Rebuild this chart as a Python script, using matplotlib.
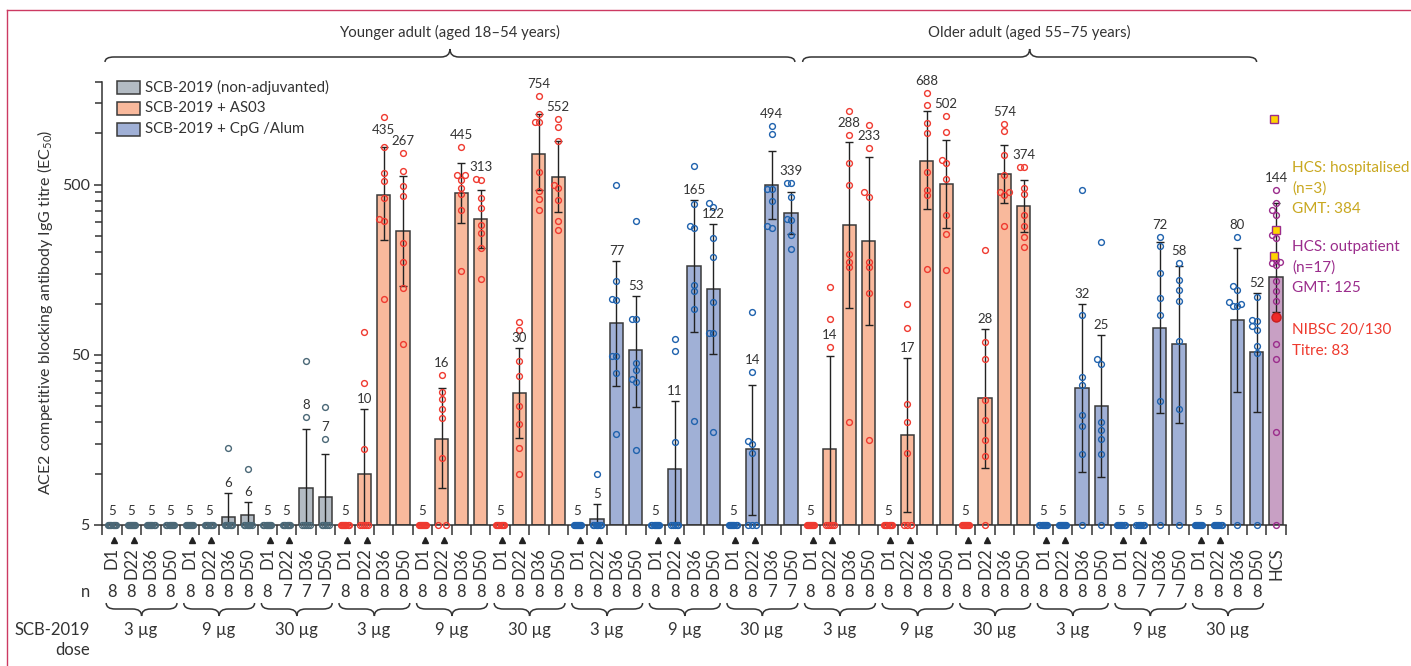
import matplotlib
matplotlib.use("Agg")
import matplotlib.pyplot as plt
import numpy as np
from matplotlib.lines import Line2D
from matplotlib.patches import PathPatch, Rectangle
from matplotlib.path import Path
from matplotlib.ticker import FixedLocator, NullFormatter
from matplotlib.transforms import IdentityTransform, blended_transform_factory

W, H = 1411, 666

plt.rcParams["font.family"] = ["Lato", "DejaVu Sans"]
plt.rcParams["mathtext.default"] = "regular"

# ---- data ---------------------------------------------------------------
days = ["D1", "D22", "D36", "D50"] * 15 + ["HCS"]
doses = ["3 µg", "9 µg", "30 µg"] * 5
regimen = (["plain"] * 12 + ["as03"] * 12 + ["cpg"] * 12
           + ["as03"] * 12 + ["cpg"] * 12 + ["hcs"])

n_subjects = [8, 8, 8, 8, 8, 8, 8, 8, 8, 7, 7, 7,
              8, 8, 8, 8, 8, 8, 8, 8, 8, 8, 8, 8,
              8, 8, 8, 8, 8, 8, 8, 8, 8, 8, 7, 7,
              8, 8, 8, 8, 8, 8, 8, 8, 8, 8, 8, 8,
              8, 8, 8, 8, 8, 7, 7, 7, 8, 8, 8, 8]

gmt = [5, 5, 5, 5, 5, 5, 5.6, 5.7, 5, 5, 8.3, 7.3,
       5, 10, 435, 267, 5, 16, 445, 313, 5, 30, 754, 552,
       5, 5.4, 77, 53, 5, 10.6, 165, 122, 5, 14, 494, 339,
       5, 14, 288, 233, 5, 17, 688, 502, 5, 28, 574, 374,
       5, 5, 32, 25, 5, 5, 72, 58, 5, 5, 80, 52,
       144]

nan = float("nan")
err_low = [nan, nan, nan, nan, nan, nan, 4.2, 4.2, nan, nan, 3.8, 4.0,
           nan, 4, 236, 126, nan, 8.3, 297, 212, nan, 16.2, 462, 344,
           nan, 4.4, 32.9, 24.8, nan, 4, 67.6, 50.6, nan, 5.7, 314, 257,
           nan, 4, 94.1, 75, nan, 6.0, 360, 279, nan, 10.8, 390, 264,
           nan, nan, 10.3, 9.6, nan, nan, 22.6, 19.8, nan, nan, 30.2, 22.9,
           89]
err_high = [nan, nan, nan, nan, nan, nan, 7.7, 6.8, nan, nan, 18.3, 13.1,
            nan, 24.1, 833, 562, nan, 31.8, 672, 462, nan, 55, 1290, 904,
            nan, 6.6, 178, 111, nan, 26.7, 404, 293, nan, 33, 788, 452,
            nan, 48.9, 893, 722, nan, 47.6, 1346, 915, nan, 71, 855, 529,
            nan, nan, 99.6, 65.1, nan, nan, 230, 167, nan, nan, 212, 116,
            388]

points = [
    # younger, non-adjuvanted
    [5] * 8, [5] * 8, [5] * 8, [5] * 8,
    [5] * 8, [5] * 8, [14.1] + [5] * 7, [10.7] + [5] * 7,
    [5] * 8, [5] * 7, [46, 21.5] + [5] * 5, [24.7, 15.9] + [5] * 5,
    # younger, AS03
    [5] * 8, [68, 34.1, 13.9] + [5] * 5,
    [1245, 833, 586, 521, 417, 314, 307, 106],
    [768, 599, 489, 427, 227, 175, 123, 57.5],
    [5] * 8, [38.1, 30.4, 27.3, 24.1, 21.3, 12.4, 5, 5],
    [828, 567, 567, 530, 478, 437, 356, 155],
    [542, 528, 417, 366, 288, 260, 212, 140],
    [5] * 8, [77.9, 70.2, 45.9, 37.3, 25.1, 19.6, 14.1, 9.9],
    [1646, 1290, 1169, 1169, 594, 457, 412, 356],
    [1217, 1092, 904, 495, 478, 404, 306, 269],
    # younger, CpG/Alum
    [5] * 8, [9.9] + [5] * 7,
    [495, 135, 106, 105, 48.9, 48.9, 39.3, 17.1],
    [304, 80.8, 80.8, 44.8, 40.8, 36, 34.4, 13.8],
    [5] * 8, [61.9, 52.8, 15.3] + [5] * 5,
    [644, 385, 284, 278, 129, 118, 92.8, 20.4],
    [390, 367, 244, 188, 101.6, 67.1, 67.1, 17.7],
    [5] * 8, [88.7, 39.6, 15.5, 14.9, 13.3, 5, 5, 5],
    [1101, 994, 472, 472, 402, 284, 276],
    [507, 507, 425, 314, 308, 253, 210],
    # older, AS03
    [5] * 8, [125.6, 81.1, 55.2] + [5] * 5,
    [1358, 980, 671, 495, 196, 175, 163, 20.2],
    [1122, 818, 451, 423, 175, 163.5, 116, 15.8],
    [5] * 8, [99.8, 71.8, 25.8, 20, 13.2, 5, 5, 5],
    [1730, 1472, 1142, 998, 596, 467, 431, 160],
    [1261, 1011, 695, 671, 542, 330, 257, 158],
    [5] * 8, [207, 59.4, 47.3, 27.2, 20.7, 15.8, 12.7, 5],
    [1138, 1030, 750, 567, 453, 451, 431, 287],
    [635, 635, 478, 439, 330, 284, 245, 216],
    # older, CpG/Alum
    [5] * 8, [5] * 8,
    [462, 85.1, 37, 33, 22, 19, 13, 5],
    [230, 47, 44, 20, 18, 16, 13, 5],
    [5] * 8, [5] * 7,
    [245, 217, 152, 108, 85.9, 26.8, 5],
    [173, 138, 120, 103, 59.9, 24, 5],
    [5] * 8, [5] * 8,
    [245, 126, 119.5, 102, 99.8, 97.1, 96.2, 5],
    [109, 79.6, 78.5, 73.3, 70.2, 56, 51.2, 5],
    # convalescent sera (outpatients)
    [467, 390, 353, 333, 254, 243, 181, 175, 173, 168, 135, 118, 104,
     57.8, 47.2, 17.7, 5],
]
hcs_hospitalised = [1205, 269, 191]
nibsc_titre = 83

fill = {"plain": "#b3bbc3", "as03": "#f9b99c", "cpg": "#a0b0d6", "hcs": "#c8a0c4"}
dots = {"plain": "#4b6877", "as03": "#ef3a30", "cpg": "#1f62ad", "hcs": "#9b2d8c"}
ink = "#333333"

# label placement tweaks (pixels): labels kept on their whisker, extra lift
label_on_whisker = {21, 31}
label_lift = {14: 7}

# ---- figure ----------------------------------------------------------------
fig = plt.figure(figsize=(W / 100, H / 100), dpi=100)
ax = fig.add_axes([102.3 / W, 141 / H, 1183.4 / W, 443 / H])
ax.set_yscale("log")
ax.set_ylim(5, 2000)
ax.set_xlim(-0.5, len(days) - 0.5)

x = np.arange(len(days))
gmt_arr = np.array(gmt, dtype=float)
ax.bar(x, gmt_arr - 5, bottom=5, width=0.68,
       color=[fill[r] for r in regimen], edgecolor="#3a3a3a", linewidth=1.1, zorder=2)

lo = np.array(err_low)
hi = np.array(err_high)
has_err = ~np.isnan(hi)
ax.errorbar(x[has_err], gmt_arr[has_err],
            yerr=[gmt_arr[has_err] - lo[has_err], hi[has_err] - gmt_arr[has_err]],
            fmt="none", ecolor="#222222", elinewidth=1.0, capsize=3, capthick=1.0, zorder=3)


def ypx(v):
    return ax.transData.transform((0, v))[1]


def spread(vals):
    """horizontal offsets so that dots at the same height do not sit on top of each other"""
    offs = []
    placed = []
    floor = [v for v in vals if v <= 5]
    for k, v in enumerate(floor):
        offs.append(0 if len(floor) == 1 else -0.2 + 0.4 * k / (len(floor) - 1))
    out_vals = list(floor)
    for v in sorted([v for v in vals if v > 5]):
        p = ypx(v)
        for dx in (0, -0.22, 0.22, -0.44, 0.44):
            if all(abs(p - q) > 5 or abs(dx - d) > 0.2 for q, d in placed):
                break
        placed.append((p, dx))
        offs.append(dx)
        out_vals.append(v)
    return out_vals, offs


for i, vals in enumerate(points):
    vs, dx = spread(vals)
    ax.plot(i + np.array(dx), vs, "o", ms=4.2, mfc="none", mec=dots[regimen[i]],
            mew=1.0, zorder=5, clip_on=False)

# hospitalised convalescent sera and the NIBSC reference
hx = len(days) - 1
ax.plot([hx - 0.08, hx, hx - 0.1], hcs_hospitalised, "s", ms=5.5,
        mfc="#ffd400", mec="#9b2d8c", mew=1.0, zorder=6)
ax.plot([hx], [nibsc_titre], "o", ms=6.5, mfc="#ee2a2a", mec="#c81e1e", zorder=6)

# value labels above the bars
for i, v in enumerate(gmt):
    top = err_high[i] if has_err[i] else v
    base = ypx(top)
    c = base + (10 if has_err[i] else 14)
    pts = [] if i in label_on_whisker else [ypx(p) for p in points[i] if p > 5]
    while True:
        hit = [p for p in pts if abs(p - c) < 9.5]
        if not hit:
            break
        c = max(hit) + 12
    c += label_lift.get(i, 0)
    ax.annotate(f"{v:.0f}", (i, top), xytext=(0, c - base), textcoords="offset pixels",
                ha="center", va="center", fontsize=9.5, color=ink, zorder=7)

# axes styling
for s in ("top", "right"):
    ax.spines[s].set_visible(False)
for s in ("left", "bottom"):
    ax.spines[s].set_linewidth(1.1)
    ax.spines[s].set_color(ink)

ax.set_yticks([5, 50, 500])
ax.set_yticklabels(["5", "50", "500"])
minor = [5 * k * 10 ** d for d in (0, 1) for k in range(2, 10)] + [1000, 1500, 2000]
ax.yaxis.set_minor_locator(FixedLocator(minor))
ax.yaxis.set_minor_formatter(NullFormatter())
ax.tick_params(axis="y", which="major", length=6, width=1.1, color=ink,
               labelsize=11.5, labelcolor=ink, pad=3)
ax.tick_params(axis="y", which="minor", length=5, width=1.1, color=ink)

ax.set_xticks(x)
ax.set_xticklabels(days, rotation=90)
ax.set_xticks(np.arange(-0.5, len(days)), minor=True)
ax.tick_params(axis="x", which="major", length=0, pad=16, labelsize=12, labelcolor=ink)
ax.tick_params(axis="x", which="minor", length=7, width=1.1, color=ink)

fig.text(45 / W, 1 - 312 / H, "ACE2 competitive blocking antibody IgG titre (EC$_{50}$)",
         rotation=90, ha="center", va="center", fontsize=11.5, color=ink)

trans = blended_transform_factory(ax.transData, fig.transFigure)

# vaccination-day markers
for i, d in enumerate(days):
    if d in ("D1", "D22"):
        ax.plot(i + 0.12, 1 - 540 / H, "^", ms=4, color="#222222", transform=trans, clip_on=False)

# n row
fig.text(86 / W, 1 - 592 / H, "n", ha="center", va="center", fontsize=12, color=ink)
for i, n in enumerate(n_subjects):
    ax.text(i, 1 - 592 / H, str(n), transform=trans, ha="center", va="center",
            fontsize=12, color=ink)


def xpx(v):
    return ax.transData.transform((v, 5))[0]


def brace(x0, x1, y, end, tip):
    xm = (x0 + x1) / 2
    r = min(9, (x1 - x0) / 6)
    verts = [(x0, y + end), (x0, y), (x0 + r, y), (xm - r, y), (xm, y), (xm, y + tip),
             (xm, y), (xm + r, y), (x1 - r, y), (x1, y), (x1, y + end)]
    codes = [Path.MOVETO, Path.CURVE3, Path.CURVE3, Path.LINETO, Path.CURVE3, Path.CURVE3,
             Path.CURVE3, Path.CURVE3, Path.LINETO, Path.CURVE3, Path.CURVE3]
    fig.add_artist(PathPatch(Path(verts, codes), fill=False, lw=1.1, ec=ink,
                             transform=IdentityTransform()))


# dose braces
for g, dose in enumerate(doses):
    brace(xpx(4 * g - 0.3), xpx(4 * g + 3.35), H - 609, 6, -7)
    ax.text(4 * g + 1.5, 1 - 630 / H, dose, transform=trans, ha="center", va="center",
            fontsize=12, color=ink)
fig.text(90 / W, 1 - 630 / H, "SCB-2019", ha="right", va="center", fontsize=12, color=ink)
fig.text(90 / W, 1 - 650 / H, "dose", ha="right", va="center", fontsize=12, color=ink)

# age group braces
for (a, b), name in (((-0.36, 35.2), "Younger adult (aged 18–54 years)"),
                     ((35.6, 59.0), "Older adult (aged 55–75 years)")):
    brace(xpx(a), xpx(b), H - 57, -5, 8)
    fig.text((xpx(a) + xpx(b)) / 2 / W, 1 - 32 / H, name, ha="center", va="center",
             fontsize=10.7, color=ink)

# legend
for k, (key, lab) in enumerate((("plain", "SCB-2019 (non-adjuvanted)"),
                                ("as03", "SCB-2019 + AS03"),
                                ("cpg", "SCB-2019 + CpG /Alum"))):
    yc = 87 + 21 * k
    fig.add_artist(Rectangle((117 / W, 1 - (yc + 6.5) / H), 23 / W, 13 / H,
                             facecolor=fill[key], edgecolor="#3a3a3a", lw=1.1,
                             transform=fig.transFigure))
    fig.text(145 / W, 1 - yc / H, lab, ha="left", va="center", fontsize=10.8, color=ink)

# convalescent sera annotations
notes = [("HCS: hospitalised", 168, "#c9a820"), ("(n=3)", 189, "#c9a820"),
         ("GMT: 384", 209, "#c9a820"),
         ("HCS: outpatient", 247, "#9b2d8c"), ("(n=17)", 268, "#9b2d8c"),
         ("GMT: 125", 288, "#9b2d8c"),
         ("NIBSC 20/130", 330, "#ee3a2e"), ("Titre: 83", 351, "#ee3a2e")]
for txt, y, col in notes:
    fig.text(1292 / W, 1 - y / H, txt, ha="left", va="center", fontsize=11, color=col)

# journal frame
fig.add_artist(Line2D([7 / W, 1], [1 - 10 / H] * 2, color="#cc3a62", lw=1.0,
                      transform=fig.transFigure))
fig.add_artist(Line2D([7 / W] * 2, [0, 1 - 10 / H], color="#cc3a62", lw=1.0,
                      transform=fig.transFigure))

fig.savefig("out.png", dpi=100)
